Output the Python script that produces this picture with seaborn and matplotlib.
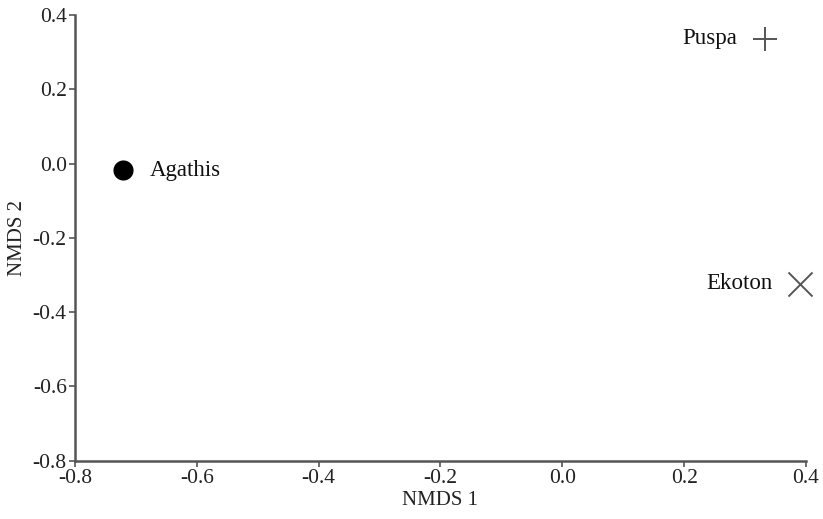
import matplotlib
matplotlib.use("Agg")
import matplotlib.pyplot as plt
import seaborn as sns
import pandas as pd

sites = ["Agathis", "Puspa", "Ekoton"]
nmds1 = [-0.721, 0.332, 0.390]
nmds2 = [-0.018, 0.336, -0.323]
xticks = [-0.8, -0.6, -0.4, -0.2, 0.0, 0.2, 0.4]
yticks = [-0.8, -0.6, -0.4, -0.2, 0.0, 0.2, 0.4]

df = pd.DataFrame({"site": sites, "NMDS 1": nmds1, "NMDS 2": nmds2})

sns.set_theme(style="ticks")
plt.rcParams['font.family'] = ['Liberation Serif', 'DejaVu Serif']

fig = plt.figure(figsize=(8.23, 5.19), dpi=100)
ax = fig.add_axes([0.0911, 0.1123, 0.9793 - 0.0911, 0.9711 - 0.1123])

marker_map = {"Agathis": "o", "Puspa": "+", "Ekoton": "x"}
size_map = {"Agathis": 210, "Puspa": 300, "Ekoton": 300}
color_map = {"Agathis": "black", "Puspa": "#555555", "Ekoton": "#555555"}
for s in sites:
    sub = df[df["site"] == s]
    sns.scatterplot(data=sub, x="NMDS 1", y="NMDS 2", marker=marker_map[s],
                    s=size_map[s], color=color_map[s], linewidth=1.4 if s != "Agathis" else 0,
                    ax=ax, legend=False, clip_on=False, zorder=3)

offsets = {"Agathis": (19.5, 0, "left"), "Puspa": (-19.5, 0, "right"), "Ekoton": (-20, 0, "right")}
for s, x, y in zip(sites, nmds1, nmds2):
    dx, dy, ha = offsets[s]
    ax.annotate(s, (x, y), xytext=(dx, dy), textcoords="offset points",
                ha=ha, va="center", fontsize=16.5, color="#111111")

ax.set_xlim(-0.8, 0.4)
ax.set_ylim(-0.8, 0.4)
ax.set_xticks(xticks)
ax.set_yticks(yticks)
ax.set_xticklabels([f"{v:.1f}" for v in xticks])
ax.set_yticklabels([f"{v:.1f}" for v in yticks])
ax.set_xlabel("NMDS 1", fontsize=15, color="#222222", labelpad=2)
ax.set_ylabel("NMDS 2", fontsize=15, color="#222222", labelpad=4)
ax.tick_params(axis="both", labelsize=15.5, colors="#555555", labelcolor="#222222",
               length=4, width=1.2, direction="out", pad=2)
sns.despine(ax=ax)
for sp in ["left", "bottom"]:
    ax.spines[sp].set_color("#555555")
    ax.spines[sp].set_linewidth(1.8)

fig.savefig("out.png", dpi=100)
